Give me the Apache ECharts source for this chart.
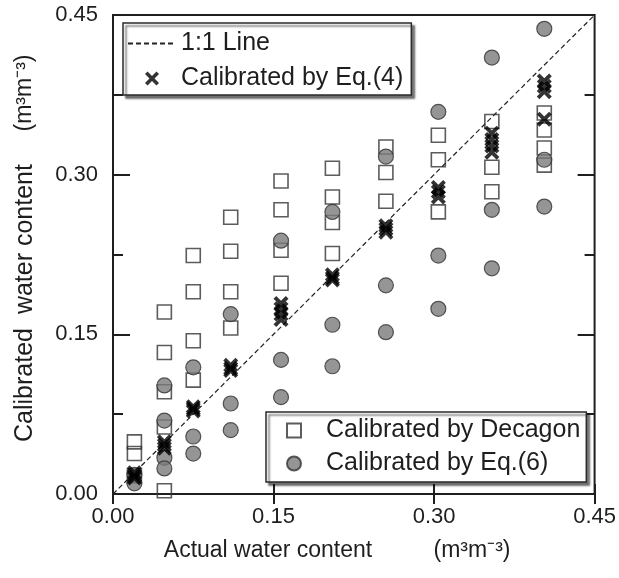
<!DOCTYPE html>
<html>
<head>
<meta charset="utf-8">
<script src="https://cdn.jsdelivr.net/npm/echarts@6/dist/echarts.min.js"></script>
<style>
  html, body { margin: 0; padding: 0; background: #fff; }
  #chart { width: 619px; height: 578px; }
</style>
</head>
<body>
<div id="chart"></div>
<script>
// ---- data ----
const xLevels = [0.020, 0.048, 0.075, 0.110, 0.157, 0.205, 0.255, 0.304, 0.354, 0.403];

const decagonValues = [
  [0.049, 0.038, 0.017],
  [0.171, 0.133, 0.096, 0.063, 0.003],
  [0.224, 0.190, 0.144, 0.107],
  [0.260, 0.228, 0.190, 0.156],
  [0.294, 0.267, 0.229, 0.198],
  [0.306, 0.279, 0.255, 0.226],
  [0.326, 0.302, 0.275],
  [0.337, 0.314, 0.265],
  [0.350, 0.307, 0.284],
  [0.358, 0.342, 0.325, 0.309]
];

const eq6Values = [
  [0.018, 0.010],
  [0.102, 0.069, 0.034, 0.024],
  [0.119, 0.054, 0.038],
  [0.169, 0.085, 0.060],
  [0.238, 0.126, 0.091],
  [0.265, 0.159, 0.120],
  [0.317, 0.196, 0.152],
  [0.359, 0.224, 0.174],
  [0.410, 0.267, 0.212],
  [0.437, 0.314, 0.270]
];

const eq4Values = [
  [0.020, 0.017, 0.015],
  [0.049, 0.046, 0.043],
  [0.082, 0.080, 0.078],
  [0.121, 0.118, 0.116],
  [0.179, 0.174, 0.169, 0.164],
  [0.206, 0.203, 0.201],
  [0.252, 0.249, 0.246],
  [0.288, 0.284, 0.279],
  [0.339, 0.333, 0.327, 0.321],
  [0.388, 0.383, 0.378, 0.352]
];

const oneToOne = [[0, 0], [0.45, 0.45]];
const axisMin = 0, axisMax = 0.45, axisInterval = 0.15, yMinorInterval = 0.075;

const seriesNames = ['1:1 Line', 'Calibrated by Eq.(4)', 'Calibrated by Decagon', 'Calibrated by Eq.(6)'];
const xTitle = 'Actual water content';
const yTitle = 'Calibrated  water content';
const unitText = '(m\u00B3m\u207B\u00B3)';

// ---- build ----
function toPairs(groups) {
  const out = [];
  groups.forEach((g, i) => g.forEach(v => out.push([xLevels[i], v])));
  return out;
}

const FONT = '"Liberation Sans", Arial, Helvetica, sans-serif';
const INK = '#1e1e1e';
const crossPath = 'path://M0,1.8L1.8,0L5,3.2L8.2,0L10,1.8L6.8,5L10,8.2L8.2,10L5,6.8L1.8,10L0,8.2L3.2,5Z';
const squarePath = 'path://M0,0L10,0L10,10L0,10Z';

const chart = echarts.init(document.getElementById('chart'), null, { renderer: 'canvas' });

const tickLabel = {
  color: INK, fontFamily: FONT, fontSize: 22,
  formatter: v => v.toFixed(2)
};

function xAxisDef(position, showLabel) {
  return {
    type: 'value', min: axisMin, max: axisMax, interval: axisInterval, position: position,
    axisLine: { show: false }, splitLine: { show: false },
    axisTick: { show: true, inside: true, length: 10, lineStyle: { color: INK, width: 2 } },
    axisLabel: showLabel ? Object.assign({ margin: 12 }, tickLabel) : { show: false }
  };
}
function yAxisDef(position, interval, len, showLabel) {
  return {
    type: 'value', min: axisMin, max: axisMax, interval: interval, position: position,
    axisLine: { show: false }, splitLine: { show: false },
    axisTick: { show: true, inside: true, length: len, lineStyle: { color: INK, width: 2 } },
    axisLabel: showLabel ? Object.assign({ margin: 15 }, tickLabel) : { show: false }
  };
}

const legendCommon = {
  orient: 'vertical',
  backgroundColor: '#fff',
  borderColor: '#2a2a2a',
  borderWidth: 1.5,
  borderRadius: 0,
  shadowColor: 'rgba(0,0,0,0.55)',
  shadowBlur: 2,
  shadowOffsetX: 3,
  shadowOffsetY: 3,
  itemHeight: 14,
  selectedMode: false
};

chart.setOption({
  animation: false,
  backgroundColor: '#fff',
  grid: {
    left: 113, top: 15, right: 24, bottom: 84,
    show: true, borderColor: INK, borderWidth: 2, backgroundColor: 'transparent'
  },
  xAxis: [
    xAxisDef('bottom', true),
    xAxisDef('top', false)
  ],
  yAxis: [
    yAxisDef('left', axisInterval, 17, true),
    yAxisDef('left', yMinorInterval, 10, false),
    yAxisDef('right', axisInterval, 17, false),
    yAxisDef('right', yMinorInterval, 10, false)
  ],
  legend: [
    Object.assign({}, legendCommon, {
      data: [
        { name: seriesNames[0], itemStyle: { opacity: 0 } },
        seriesNames[1]
      ],
      left: 123, top: 23,
      itemWidth: 48,
      itemGap: 10,
      padding: [8, 8, 4, 4],
      textStyle: { color: INK, fontFamily: FONT, fontSize: 25, lineHeight: 24 }
    }),
    Object.assign({}, legendCommon, {
      data: [seriesNames[2], seriesNames[3]],
      left: 266, top: 412,
      itemWidth: 14,
      itemGap: 8,
      padding: [6, 6, 6, 20],
      textStyle: { color: INK, fontFamily: FONT, fontSize: 25, lineHeight: 24, padding: [0, 0, 0, 20] }
    })
  ],
  graphic: [
    { type: 'text', x: 25, y: 303, rotation: Math.PI / 2,
      style: { text: yTitle, fill: INK, font: '25px ' + FONT, align: 'center', verticalAlign: 'middle' } },
    { type: 'text', x: 25, y: 93, rotation: Math.PI / 2,
      style: { text: unitText, fill: INK, font: '23px ' + FONT, align: 'center', verticalAlign: 'middle' } },
    { type: 'text', x: 268, y: 551,
      style: { text: xTitle, fill: INK, font: '23px ' + FONT, align: 'center', verticalAlign: 'middle' } },
    { type: 'text', x: 472, y: 551,
      style: { text: unitText, fill: INK, font: '23px ' + FONT, align: 'center', verticalAlign: 'middle' } }
  ],
  series: [
    {
      name: seriesNames[0], type: 'line', data: oneToOne,
      symbol: 'none', silent: true,
      lineStyle: { color: '#222', width: 1.2, type: [5, 3] },
      itemStyle: { color: '#222' },
      z: 1
    },
    {
      name: seriesNames[2], type: 'scatter', data: toPairs(decagonValues),
      symbol: squarePath, symbolSize: 14, symbolKeepAspect: true,
      itemStyle: { color: 'rgba(255,255,255,0)', borderColor: '#333', borderWidth: 1.6 },
      z: 2
    },
    {
      name: seriesNames[3], type: 'scatter', data: toPairs(eq6Values),
      symbol: 'circle', symbolSize: 15, symbolKeepAspect: true,
      itemStyle: { color: '#7b7b7b', borderColor: '#333', borderWidth: 1.2 },
      z: 3
    },
    {
      name: seriesNames[1], type: 'scatter', data: toPairs(eq4Values),
      symbol: crossPath, symbolSize: 15, symbolKeepAspect: true,
      itemStyle: { color: '#000', borderWidth: 0 },
      z: 4
    }
  ]
});
</script>
</body>
</html>
